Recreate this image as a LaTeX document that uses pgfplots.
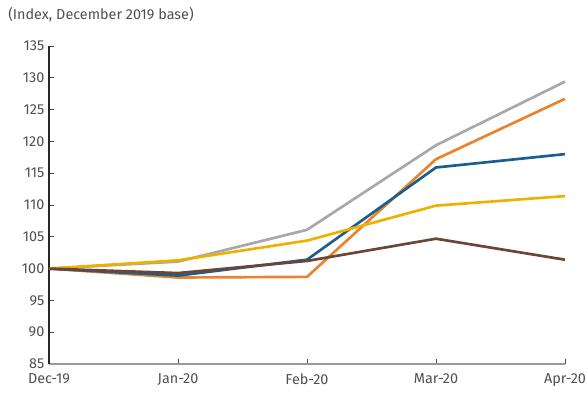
\documentclass[border=0pt]{standalone}
\usepackage{pgfplots}
\pgfplotsset{compat=1.18}
\usepackage{fontspec}
\setmainfont{Fira Sans}
\definecolor{sblue}{RGB}{27,94,140}
\definecolor{sorange}{RGB}{234,131,45}
\definecolor{sgray}{RGB}{168,168,168}
\definecolor{syellow}{RGB}{237,178,0}
\definecolor{sbrown}{RGB}{107,69,54}
\definecolor{txt}{RGB}{80,80,80}
\begin{document}
\begin{tikzpicture}[x=1pt,y=1pt]
\useasboundingbox (-36.75,-21.75) rectangle (403.5,273);
\begin{axis}[
  at={(0,0)}, anchor=south west,
  scale only axis,
  width=387pt, height=238.5pt,
  xmin=0, xmax=4, ymin=85, ymax=135,
  xtick={0,1,2,3,4},
  xticklabels={Dec-19,Jan-20,Feb-20,Mar-20,Apr-20},
  ytick={85,90,...,135},
  axis x line*=bottom, axis y line*=left,
  x axis line style={draw=gray!80, line width=1.4pt, -},
  y axis line style={draw=black!85, line width=0.9pt, -},
  tick style={draw=black!70, line width=0.6pt},
  major tick length=4pt,
  tick align=inside,
  ticklabel style={font=\fontsize{10.8}{13}\selectfont, text=txt},
  xticklabel style={yshift=-3.5pt},
  /pgf/number format/assume math mode=true,
  clip=false,
]
\addplot[sgray, line width=2pt] coordinates {(0,100) (1,101.1) (2,106.1) (3,119.4) (4,129.4)};
\addplot[sorange, line width=2pt] coordinates {(0,100) (1,98.6) (2,98.7) (3,117.2) (4,126.7)};
\addplot[sblue, line width=2pt] coordinates {(0,100) (1,98.9) (2,101.4) (3,115.9) (4,118.0)};
\addplot[syellow, line width=2pt] coordinates {(0,100) (1,101.3) (2,104.4) (3,109.9) (4,111.4)};
\addplot[sbrown, line width=2pt] coordinates {(0,100) (1,99.3) (2,101.2) (3,104.7) (4,101.4)};
\end{axis}
\node[anchor=west, text=txt, font=\fontsize{10.8}{13}\selectfont, inner sep=0pt] at (-30.75,261.75) {(Index, December 2019 base)};
\end{tikzpicture}
\end{document}
